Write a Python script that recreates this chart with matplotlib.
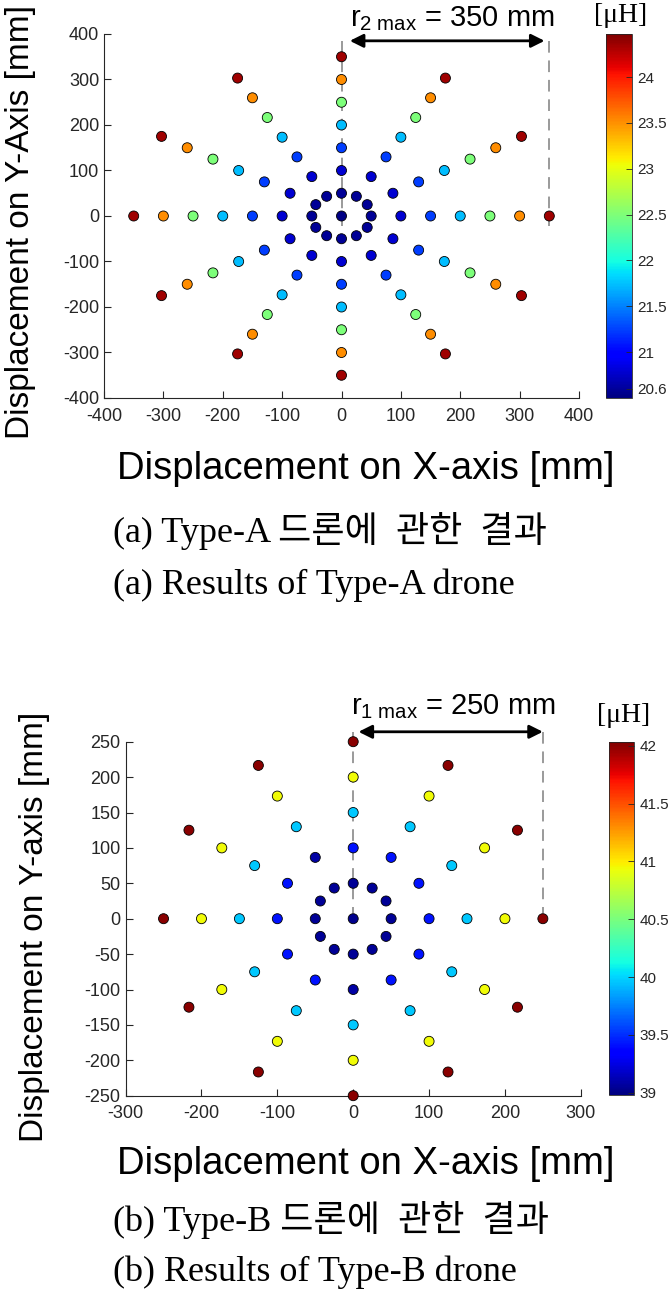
import numpy as np
import matplotlib
matplotlib.use('Agg')
import matplotlib.pyplot as plt

plt.rcParams['font.family'] = 'Liberation Sans'
plt.rcParams['axes.unicode_minus'] = False
plt.rcParams['mathtext.fontset'] = 'custom'
plt.rcParams['mathtext.rm'] = 'Liberation Sans'
plt.rcParams['mathtext.it'] = 'Liberation Sans:italic'

GREY = '#262626'
W, H = 672, 1296

# spokes of the measurement grid (deg)
angles = [0, 30, 60, 90, 120, 150, 180, 210, 240, 270, 300, 330]

# Type-A drone: inductance [uH] at centre and on each ring
rings_a = [50, 100, 150, 200, 250, 300, 350]
L_a_centre = 20.52
L_a = [20.58, 20.78, 21.23, 21.73, 22.49, 23.52, 24.35]
clim_a = (20.5, 24.47)
cticks_a = [20.6, 21, 21.5, 22, 22.5, 23, 23.5, 24]

# Type-B drone
rings_b = [50, 100, 150, 200, 250]
L_b_centre = 39.02
L_b_100 = [39.41, 39.41, 39.41, 39.41, 39.08, 39.41,
           39.41, 39.41, 39.41, 39.08, 39.41, 39.41]
L_b = [39.04, L_b_100, 39.96, 40.94, 42.0]
clim_b = (38.98, 42.035)
cticks_b = [39, 39.5, 40, 40.5, 41, 41.5, 42]


def grid_points(rings, vals, centre):
    xs, ys, cs = [0.0], [0.0], [centre]
    for r, v in zip(rings, vals):
        vv = v if np.ndim(v) else [v] * len(angles)
        for a, val in zip(angles, vv):
            xs.append(r * np.cos(np.radians(a)))
            ys.append(r * np.sin(np.radians(a)))
            cs.append(val)
    return xs, ys, cs


def fx(p):
    return p / W


def fy(p):
    return 1 - p / H


def panel(ax, cax, rings, vals, centre, clim, cticks, lim_x, lim_y, step_x, step_y,
          rmax, arrow_x, arrow_y, dash_bot, label, label_xy):
    xs, ys, cs = grid_points(rings, vals, centre)
    sc = ax.scatter(xs, ys, c=cs, cmap='jet', vmin=clim[0], vmax=clim[1], s=52,
                    edgecolors='k', linewidths=0.6, zorder=3, clip_on=False)
    ax.set_xlim(-lim_x, lim_x)
    ax.set_ylim(-lim_y, lim_y)
    ax.set_xticks(np.arange(-lim_x, lim_x + 1, step_x))
    ax.set_yticks(np.arange(-lim_y, lim_y + 1, step_y))
    for s in ['top', 'right']:
        ax.spines[s].set_visible(False)
    for s in ['left', 'bottom']:
        ax.spines[s].set_color(GREY)
        ax.spines[s].set_linewidth(0.8)
    ax.tick_params(direction='in', length=5, width=0.8, color=GREY,
                   labelcolor=GREY, labelsize=13)
    ax.tick_params(axis='x', pad=7)
    ax.tick_params(axis='y', pad=3.5)

    # r_max marker
    for xv in [0, rmax]:
        ax.plot([xv, xv], [arrow_y, dash_bot], color='#9a9a9a', lw=1.4,
                dashes=(6, 4), clip_on=False, zorder=2)
    ax.annotate('', xy=(arrow_x[1], arrow_y), xytext=(arrow_x[0], arrow_y),
                arrowprops=dict(arrowstyle='<|-|>', color='k', lw=2,
                                mutation_scale=20, shrinkA=0, shrinkB=0),
                annotation_clip=False)
    ax.text(label_xy[0], label_xy[1], label, ha='center', va='center',
            fontsize=21, color='k', clip_on=False)

    cb = plt.colorbar(sc, cax=cax)
    cb.set_ticks(cticks)
    cb.set_ticklabels(['%g' % t for t in cticks])
    cb.outline.set_linewidth(0.6)
    cb.outline.set_edgecolor(GREY)
    cax.tick_params(direction='in', length=4, width=0.6, color=GREY,
                    labelcolor=GREY, labelsize=11, pad=4)
    return sc


fig = plt.figure(figsize=(W / 100, H / 100), dpi=100)
cap_font = ['Liberation Serif', 'Noto Sans CJK KR']

# ---- (a) Type-A ----
ax_a = fig.add_axes([fx(104), fy(398), fx(579) - fx(104), 364 / H])
cax_a = fig.add_axes([fx(606), fy(398), 26 / W, 364 / H])
panel(ax_a, cax_a, rings_a, L_a, L_a_centre, clim_a, cticks_a, 400, 400, 100, 100,
      350, (14, 342), 385, -22, r'r$_{\mathrm{2\ max}}$ = 350 mm', (187, 433))
fig.text(fx(21), fy(222), 'Displacement on Y-Axis [mm]', rotation=90,
         ha='center', va='center', fontsize=24)
fig.text(fx(366), fy(469), 'Displacement on X-axis [mm]', ha='center',
         va='center', fontsize=27.5)
fig.text(fx(621), fy(15), '[μH]', ha='center', va='center', fontsize=20,
         family='Liberation Serif')
fig.text(fx(113), fy(531), '(a) Type-A 드론에  관한  결과', ha='left', va='center',
         fontsize=26, family=cap_font)
fig.text(fx(113), fy(585), '(a) Results of Type-A drone', ha='left', va='center',
         fontsize=26, family='Liberation Serif')

# ---- (b) Type-B ----
ax_b = fig.add_axes([fx(125.6), fy(1095.7), fx(580.8) - fx(125.6), 354 / H])
cax_b = fig.add_axes([fx(608.5), fy(1095), 25.5 / W, 353.3 / H])
panel(ax_b, cax_b, rings_b, L_b, L_b_centre, clim_b, cticks_b, 300, 250, 100, 50,
      250, (7, 250), 264, 8, r'r$_{\mathrm{1\ max}}$ = 250 mm', (132, 300))
fig.text(fx(35), fy(927), 'Displacement on Y-axis [mm]', rotation=90,
         ha='center', va='center', fontsize=24)
fig.text(fx(366), fy(1164), 'Displacement on X-axis [mm]', ha='center',
         va='center', fontsize=27.5)
fig.text(fx(624), fy(716), '[μH]', ha='center', va='center', fontsize=20,
         family='Liberation Serif')
fig.text(fx(113), fy(1220), '(b) Type-B 드론에  관한  결과', ha='left', va='center',
         fontsize=26, family=cap_font)
fig.text(fx(113), fy(1272), '(b) Results of Type-B drone', ha='left', va='center',
         fontsize=26, family='Liberation Serif')

fig.savefig('out.png', dpi=100)
